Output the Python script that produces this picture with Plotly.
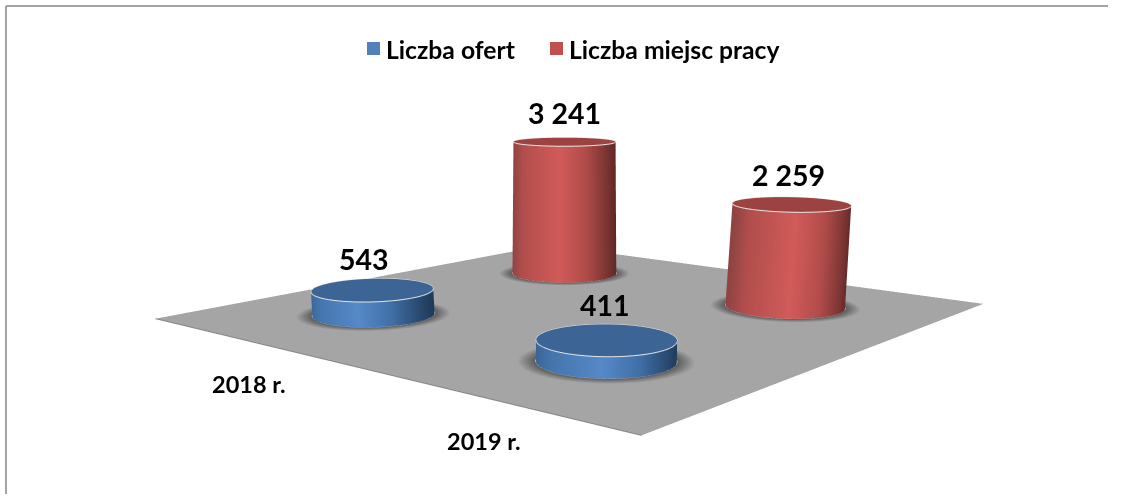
import numpy as np
import plotly.graph_objects as go

years = ["2018 r.", "2019 r."]
series_names = ["Liczba ofert", "Liczba miejsc pracy"]
oferty = [543, 411]
miejsca = [3241, 2259]
value_labels = {"Liczba ofert": ["543", "411"], "Liczba miejsc pracy": ["3 241", "2 259"]}
# small (dx, dy) px nudges of the value labels
label_shift = {"Liczba ofert": [(-9, 12), (-1, 16)], "Liczba miejsc pracy": [(0, 10), (-3, 10)]}
year_pos = [0.005, 0.995]
series_pos = [0.01, 1.01]

W = 1122
H = 1047
ZMAX = 3500.0
FONT = "Lato"
ASPECT = dict(x=1.0695, y=1.0660, z=0.2858)
EYE = dict(x=1.4375, y=-1.7664, z=0.3357)
CENTER = dict(x=0.6661, y=-0.8477, z=-0.1347)
R_SCENE = 0.1086
Rx = R_SCENE * 2 / ASPECT["x"]
Ry = R_SCENE * 2 / ASPECT["y"]
TAPER = 1.6e-5

side_scales = {
    "Liczba ofert": [[0, "#3a6496"], [0.1, "#4474ab"], [0.45, "#5589c8"], [0.7, "#4170a8"], [0.9, "#2a4c74"], [1, "#1f3a59"]],
    "Liczba miejsc pracy": [[0, "#8f4442"], [0.1, "#b04e4c"], [0.45, "#d25b59"], [0.7, "#b04c4a"], [0.9, "#7a3533"], [1, "#5e2726"]],
}
cap_colors = {"Liczba ofert": "#3c6494", "Liczba miejsc pracy": "#9c4341"}
legend_colors = {"Liczba ofert": "#4f81bd", "Liczba miejsc pracy": "#c0504d"}
FLAT = dict(ambient=1, diffuse=0, specular=0, fresnel=0, roughness=1)

fwd = np.array([CENTER["x"] - EYE["x"], CENTER["y"] - EYE["y"], 0.0])
rv = np.cross(fwd, [0, 0, 1])
rv = rv / np.linalg.norm(rv)
theta = np.linspace(0, 2 * np.pi, 145)
vals = [oferty, miejsca]

fig = go.Figure()
fig.add_trace(go.Surface(x=[[-0.5, 1.5], [-0.5, 1.5]], y=[[-0.5, -0.5], [1.5, 1.5]], z=[[0, 0], [0, 0]],
                         surfacecolor=[[0, 0], [0, 0]], cmin=0, cmax=1,
                         colorscale=[[0, "#a5a5a5"], [1, "#a5a5a5"]], showscale=False,
                         lighting=FLAT, hoverinfo="skip", showlegend=False))
fig.add_trace(go.Scatter3d(x=[-0.5, 1.5, 1.5], y=[-0.5, -0.5, 1.5], z=[0, 0, 0], mode="lines",
                           line=dict(color="#858585", width=2), hoverinfo="skip", showlegend=False))

for si, (name, values) in enumerate(zip(series_names, vals)):
    for yi, v in enumerate(values):
        cx, cy = year_pos[yi], series_pos[si]
        top = 1 - TAPER * v
        # shadow
        rr = np.array([0, 0.98, 1.08, 1.26])
        X = cx + np.outer(rr, Rx * np.cos(theta))
        Y = cy + np.outer(rr, Ry * np.sin(theta))
        fig.add_trace(go.Surface(x=X, y=Y, z=np.full(X.shape, 8.0),
                                 surfacecolor=np.outer([0, 0, 0.35, 1], np.ones_like(theta)),
                                 cmin=0, cmax=1, colorscale=[[0, "#565656"], [1, "#a5a5a5"]],
                                 showscale=False, lighting=FLAT, hoverinfo="skip", showlegend=False))
        # side
        X = cx + np.outer([1, top], Rx * np.cos(theta))
        Y = cy + np.outer([1, top], Ry * np.sin(theta))
        Z = np.outer([0, v], np.ones_like(theta))
        t = (np.cos(theta) * rv[0] + np.sin(theta) * rv[1] + 1) / 2
        fig.add_trace(go.Surface(x=X, y=Y, z=Z, surfacecolor=np.outer([1, 1], t), cmin=0, cmax=1,
                                 colorscale=side_scales[name], showscale=False, lighting=FLAT,
                                 hoverinfo="skip", showlegend=False))
        # cap
        rr = np.array([0, top])
        X = cx + np.outer(rr, Rx * np.cos(theta))
        Y = cy + np.outer(rr, Ry * np.sin(theta))
        fig.add_trace(go.Surface(x=X, y=Y, z=np.full(X.shape, float(v)),
                                 surfacecolor=np.zeros(X.shape), cmin=0, cmax=1,
                                 colorscale=[[0, cap_colors[name]], [1, cap_colors[name]]],
                                 showscale=False, lighting=FLAT, hoverinfo="skip", showlegend=False))
        # rims
        for zr, k in ((float(v), top), (10.0, 1.0)):
            fig.add_trace(go.Scatter3d(x=cx + k * Rx * np.cos(theta), y=cy + k * Ry * np.sin(theta),
                                       z=np.full(theta.shape, zr), mode="lines",
                                       line=dict(color="#e6e6e6", width=2), hoverinfo="skip", showlegend=False))

scene_annotations = []
for si, (name, values) in enumerate(zip(series_names, vals)):
    for yi, v in enumerate(values):
        dx, dy = label_shift[name][yi]
        scene_annotations.append(dict(x=year_pos[yi], y=series_pos[si], z=v, text=value_labels[name][yi], showarrow=False,
                                      xanchor="center", yanchor="bottom", xshift=dx, yshift=dy,
                                      font=dict(family=FONT, size=28.5, color="black", weight=700)))
for yi, label in enumerate(years):
    scene_annotations.append(dict(x=year_pos[yi], y=-0.5, z=0, text=label, showarrow=False, xanchor="center", yanchor="middle",
                                  xshift=-1, yshift=-43,
                                  font=dict(family=FONT, size=23.5, color="black", weight=700)))

def px(v):
    return v / W

def py(v):
    return 1 - v / H

legend_text_x = [386, 569]
legend_mark_x = [367, 550]
paper_annotations = []
shapes = [dict(type="line", xref="paper", yref="paper", x0=px(6), x1=px(1108), y0=py(6), y1=py(6),
               line=dict(color="#868686", width=1.5)),
          dict(type="line", xref="paper", yref="paper", x0=px(6), x1=px(6), y0=py(494), y1=py(6),
               line=dict(color="#868686", width=1.5))]
for name, tx, mx in zip(series_names, legend_text_x, legend_mark_x):
    paper_annotations.append(dict(xref="paper", yref="paper", x=px(tx), y=py(49), text=name, showarrow=False,
                                  xanchor="left", yanchor="middle", xshift=-2,
                                  font=dict(family=FONT, size=24.7, color="black", weight=700)))
    shapes.append(dict(type="rect", xref="paper", yref="paper", x0=px(mx), x1=px(mx + 13), y0=py(55), y1=py(42),
                       fillcolor=legend_colors[name], line=dict(width=0)))

fig.update_layout(
    width=W, height=H, autosize=False,
    margin=dict(l=0, r=0, t=0, b=0),
    paper_bgcolor="white",
    font=dict(family=FONT, color="black"),
    showlegend=False,
    annotations=paper_annotations,
    shapes=shapes,
    scene=dict(
        domain=dict(x=[0, 1], y=[0, 1]),
        xaxis=dict(range=[-0.5, 1.5], visible=False),
        yaxis=dict(range=[-0.5, 1.5], visible=False),
        zaxis=dict(range=[0, ZMAX], visible=False),
        aspectmode="manual",
        aspectratio=ASPECT,
        camera=dict(eye=EYE, center=CENTER, up=dict(x=0, y=0, z=1)),
        bgcolor="white",
        annotations=scene_annotations,
    ),
)

fig.write_html("out.html", config={"displayModeBar": False},
               post_script="document.body.style.margin='0';document.body.style.overflow='hidden';")
